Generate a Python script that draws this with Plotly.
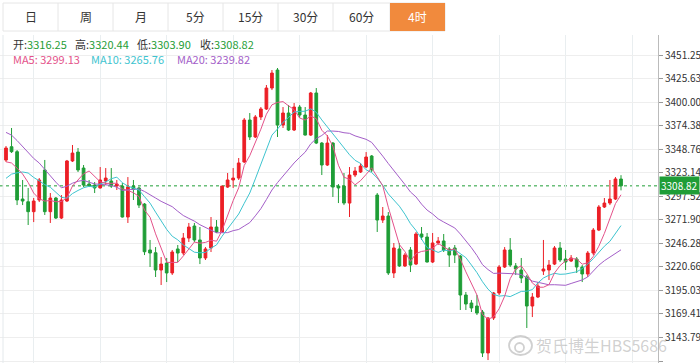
import plotly.graph_objects as go
import pandas as pd

# ---------------- data (4-hour candles) ----------------
open_ = [3336.9, 3351.4, 3346.0, 3294.5, 3291.5, 3280.7, 3293.4, 3326.1, 3280.7, 3295.6,
         3273.8, 3292.3, 3335.9, 3345.6, 3328.2, 3310.8, 3309.7, 3306.5, 3314.1, 3314.1,
         3308.6, 3308.6, 3274.9, 3308.6, 3306.5, 3289.0, 3239.0, 3236.0, 3217.2, 3224.8,
         3214.0, 3240.1, 3235.7, 3252.0, 3265.1, 3249.9, 3230.3, 3241.2, 3264.0, 3258.6,
         3307.5, 3315.2, 3317.3, 3334.8, 3380.5, 3362.0, 3383.8, 3392.5, 3415.3, 3434.9,
         3375.0, 3388.1, 3369.6, 3394.6, 3385.9, 3364.1, 3409.9, 3355.4, 3331.5, 3355.4,
         3308.6, 3308.6, 3290.1, 3320.6, 3323.9, 3329.3, 3341.3, 3298.8, 3271.6, 3276.0,
         3214.0, 3240.1, 3221.6, 3239.0, 3223.7, 3256.4, 3253.1, 3225.9, 3246.6, 3248.8,
         3240.1, 3241.2, 3232.4, 3190.0, 3181.3, 3178.0, 3171.5, 3126.9, 3165.0, 3192.2,
         3220.5, 3239.0, 3221.6, 3217.2, 3209.6, 3178.0, 3187.8, 3216.1, 3217.2, 3223.7,
         3241.2, 3229.2, 3227.0, 3229.2, 3220.5, 3212.9, 3235.7, 3260.7, 3285.8, 3290.1,
         3294.5, 3316.25]
high = [3352.2, 3371.8, 3347.8, 3315.2, 3306.5, 3295.6, 3317.3, 3337.0, 3301.0, 3296.7,
        3298.8, 3337.0, 3353.3, 3350.0, 3331.5, 3315.2, 3313.0, 3329.3, 3328.2, 3328.2,
        3315.2, 3311.9, 3318.4, 3315.2, 3307.9, 3290.1, 3249.9, 3242.2, 3231.3, 3230.3,
        3239.0, 3244.4, 3257.5, 3268.4, 3268.4, 3264.0, 3242.2, 3274.9, 3271.6, 3308.6,
        3322.8, 3328.2, 3339.1, 3382.7, 3388.1, 3385.9, 3394.6, 3418.6, 3434.9, 3437.1,
        3394.6, 3396.8, 3399.0, 3396.8, 3394.6, 3411.0, 3415.3, 3356.5, 3364.1, 3356.5,
        3310.8, 3322.8, 3329.3, 3329.3, 3333.7, 3345.6, 3342.4, 3301.0, 3285.8, 3280.3,
        3246.6, 3246.6, 3235.7, 3242.2, 3258.6, 3264.0, 3257.5, 3257.5, 3253.1, 3256.4,
        3242.2, 3244.4, 3233.5, 3193.3, 3184.6, 3190.0, 3173.7, 3166.0, 3193.3, 3222.6,
        3242.2, 3252.0, 3224.8, 3230.3, 3211.8, 3192.2, 3204.1, 3249.9, 3228.1, 3243.3,
        3247.7, 3239.0, 3233.5, 3231.3, 3222.6, 3237.9, 3262.9, 3287.9, 3295.6, 3315.2,
        3318.4, 3320.44]
low = [3334.8, 3344.6, 3287.9, 3287.9, 3266.2, 3269.4, 3291.2, 3277.1, 3268.4, 3272.7,
       3272.7, 3291.2, 3334.8, 3323.9, 3307.5, 3307.5, 3301.0, 3305.9, 3309.7, 3306.5,
       3304.3, 3274.3, 3268.4, 3293.4, 3284.7, 3233.5, 3220.5, 3209.6, 3200.9, 3204.1,
       3211.8, 3225.9, 3233.5, 3247.7, 3247.7, 3223.7, 3228.1, 3236.8, 3257.5, 3257.5,
       3306.5, 3306.5, 3315.2, 3333.7, 3358.7, 3360.9, 3380.5, 3391.4, 3413.1, 3362.0,
       3371.8, 3368.5, 3368.5, 3382.7, 3363.6, 3363.1, 3354.3, 3320.6, 3330.4, 3296.7,
       3290.1, 3287.9, 3274.9, 3318.4, 3322.8, 3328.2, 3323.9, 3258.6, 3268.4, 3211.8,
       3208.5, 3220.5, 3220.5, 3215.0, 3222.6, 3249.9, 3225.4, 3224.8, 3244.4, 3236.8,
       3220.5, 3224.8, 3173.7, 3173.7, 3171.5, 3168.2, 3122.5, 3119.2, 3162.8, 3190.0,
       3219.4, 3220.5, 3211.8, 3203.0, 3154.1, 3166.0, 3186.7, 3211.8, 3206.3, 3222.6,
       3225.9, 3217.2, 3225.9, 3214.0, 3204.1, 3209.6, 3233.5, 3259.6, 3284.7, 3287.9,
       3293.4, 3303.90]
close = [3350.0, 3346.0, 3293.4, 3292.3, 3280.7, 3292.3, 3315.2, 3280.7, 3295.6, 3273.8,
         3293.4, 3335.9, 3344.5, 3326.1, 3309.7, 3308.6, 3306.5, 3315.2, 3317.3, 3308.6,
         3310.8, 3274.9, 3307.5, 3305.0, 3287.9, 3237.1, 3235.7, 3217.2, 3223.7, 3214.0,
         3236.8, 3235.7, 3252.0, 3264.0, 3249.9, 3230.3, 3240.1, 3264.0, 3258.6, 3308.6,
         3315.2, 3317.3, 3333.7, 3380.5, 3362.0, 3383.8, 3392.5, 3415.3, 3431.6, 3375.0,
         3388.1, 3369.6, 3394.6, 3385.9, 3364.1, 3409.9, 3355.4, 3331.5, 3355.4, 3307.5,
         3306.5, 3290.1, 3320.6, 3325.0, 3330.4, 3340.2, 3326.1, 3271.6, 3276.0, 3214.0,
         3241.2, 3221.6, 3233.5, 3222.6, 3256.4, 3253.1, 3225.9, 3246.6, 3248.8, 3239.0,
         3233.5, 3233.5, 3190.0, 3180.2, 3175.9, 3170.4, 3126.9, 3165.0, 3192.2, 3220.5,
         3239.0, 3222.6, 3218.3, 3208.5, 3178.0, 3187.8, 3199.8, 3218.3, 3222.6, 3241.2,
         3228.1, 3225.9, 3230.3, 3220.5, 3212.9, 3235.7, 3260.7, 3285.8, 3290.1, 3294.5,
         3316.3, 3308.82]
# closes before the visible window (estimated from where the MA lines start)
prior_closes = [3405, 3412, 3418, 3411.4, 3425, 3415, 3422, 3415.8, 3430, 3415.8,
                3300, 3279.4, 3283, 3292, 3340.6, 3352.5, 3321.9, 3323.8, 3326.8]

y_ticks = [3118.17, 3143.79, 3169.41, 3195.03, 3220.66, 3246.28, 3271.90,
           3297.52, 3323.14, 3348.76, 3374.38, 3400.00, 3425.63, 3451.25]
tab_labels = ["日", "周", "月", "5分", "15分", "30分", "60分", "4时"]
last_price = 3308.82
info_ohlc = [("开", "3316.25"), ("高", "3320.44"), ("低", "3303.90"), ("收", "3308.82")]
info_ma = [("MA5", "3299.13"), ("MA10", "3265.76"), ("MA20", "3239.82")]

# ---------------- styling ----------------
RED = "#ec1f26"
GREEN = "#1f9d36"
C_MA5 = "#e4528a"
C_MA10 = "#3ec4cf"
C_MA20 = "#a35ec8"
FONT = "Noto Sans CJK SC, Noto Sans, sans-serif"
WM = "rgba(150,150,150,0.45)"

W, H = 700, 363
ML, MR, MT, MB = 0, 42, 35, 0
PW, PH = W - ML - MR, H - MT - MB

def px(x):
    return (x - ML) / PW

def py(y):
    return (H - MB - y) / PH

n = len(close)
idx = list(range(n))
full = pd.Series(prior_closes + close)
ma5 = full.rolling(5).mean().tolist()[-n:]
ma10 = full.rolling(10).mean().tolist()[-n:]
ma20 = full.rolling(20).mean().tolist()[-n:]

fig = go.Figure()
fig.add_trace(go.Candlestick(
    x=idx, open=open_, high=high, low=low, close=close,
    increasing=dict(line=dict(color=RED, width=1), fillcolor=RED),
    decreasing=dict(line=dict(color=GREEN, width=1), fillcolor=GREEN),
    whiskerwidth=0, hoverinfo="skip", showlegend=False))
for vals, col in [(ma20, C_MA20), (ma10, C_MA10), (ma5, C_MA5)]:
    fig.add_trace(go.Scatter(x=idx, y=vals, mode="lines",
                             line=dict(color=col, width=1), hoverinfo="skip",
                             showlegend=False))

shapes = []
shapes.append(dict(type="line", xref="paper", yref="y", x0=0, x1=1,
                   y0=last_price, y1=last_price,
                   line=dict(color=GREEN, width=1, dash="dot"), layer="below"))
shapes.append(dict(type="line", xref="paper", yref="paper", x0=px(3), x1=px(3),
                   y0=0, y1=py(35), line=dict(color="#e4e9ec", width=1)))
seps = [3, 58, 113, 168, 223, 278, 333, 390, 445]
shapes.append(dict(type="rect", xref="paper", yref="paper", x0=px(3), x1=px(445),
                   y0=py(31), y1=py(3), line=dict(color="#e6e6e6", width=1),
                   fillcolor="white"))
for s in seps[1:-1]:
    shapes.append(dict(type="line", xref="paper", yref="paper", x0=px(s), x1=px(s),
                       y0=py(31), y1=py(3), line=dict(color="#e6e6e6", width=1)))
shapes.append(dict(type="rect", xref="paper", yref="paper", x0=px(390), x1=px(445),
                   y0=py(31), y1=py(3), line=dict(width=0), fillcolor="#f18a3d"))
# watermark logo (simple eye-like mark)
shapes.append(dict(type="circle", xref="paper", yref="paper", x0=px(509), x1=px(532),
                   y0=py(355), y1=py(336), line=dict(color=WM, width=1.8),
                   fillcolor="rgba(0,0,0,0)"))
shapes.append(dict(type="circle", xref="paper", yref="paper", x0=px(515), x1=px(524),
                   y0=py(352), y1=py(343), line=dict(color=WM, width=1.8),
                   fillcolor="rgba(0,0,0,0)"))

ann = []
for i, lab in enumerate(tab_labels):
    cx = (seps[i] + seps[i + 1]) / 2
    ann.append(dict(xref="paper", yref="paper", x=px(cx), y=py(17), text=lab,
                    showarrow=False, xanchor="center", yanchor="middle",
                    font=dict(family=FONT, size=12,
                              color="white" if lab == "4时" else "#333")))
ohlc_x = [11, 73, 135, 198]
for (lab, val), x0 in zip(info_ohlc, ohlc_x):
    ann.append(dict(xref="paper", yref="paper", x=px(x0), y=py(44),
                    text=f"{lab}:<span style='color:{GREEN}'>{val}</span>",
                    showarrow=False, xanchor="left", yanchor="middle",
                    font=dict(family=FONT, size=11, color="#333")))
ma_x = [11, 89, 175]
for (lab, val), x0, col in zip(info_ma, ma_x, [C_MA5, C_MA10, C_MA20]):
    ann.append(dict(xref="paper", yref="paper", x=px(x0), y=py(59),
                    text=f"{lab}: {val}", showarrow=False, xanchor="left",
                    yanchor="middle", font=dict(family=FONT, size=11, color=col)))
ann.append(dict(xref="paper", yref="y", x=1, y=last_price, text=f"{last_price:.2f}",
                showarrow=False, xanchor="left", yanchor="middle", xshift=1,
                bgcolor=GREEN, borderpad=1,
                font=dict(family=FONT, size=10, color="white")))
ann.append(dict(xref="paper", yref="paper", x=px(534), y=py(345),
                text="贺氏博生HBS5686", showarrow=False, xanchor="left",
                yanchor="middle",
                font=dict(family=FONT, size=16, color=WM)))

x_grid = [5, 17, 29, 41, 53, 65, 77, 89, 101, 113]
sc = (621 - 6) / (n - 1)
x0r = -(6 - ML) / sc
x1r = x0r + PW / sc

k = 0.9187
ytop = 3451.25 + (55 - MT) / k
ybot = ytop - PH / k

fig.update_layout(
    width=W, height=H, margin=dict(l=ML, r=MR, t=MT, b=MB),
    paper_bgcolor="white", plot_bgcolor="white",
    shapes=shapes, annotations=ann, boxgap=0.3,
    font=dict(family=FONT, size=11, color="#333"),
    xaxis=dict(range=[x0r, x1r], rangeslider=dict(visible=False),
               tickvals=x_grid, showticklabels=False, showgrid=True,
               gridcolor="#e9eef0", zeroline=False, showline=False, ticks=""),
    yaxis=dict(range=[ybot, ytop], side="right", tickvals=y_ticks,
               ticktext=[f"{v:.2f}" for v in y_ticks], showgrid=True,
               gridcolor="#eeeeee", zeroline=False, showline=True,
               linecolor="#bbbbbb", ticks="outside", ticklen=4,
               tickcolor="#999", automargin=False,
               tickfont=dict(family=FONT, size=10, color="#333")),
)
fig.write_html("out.html", config={"displayModeBar": False},
               post_script="document.body.style.margin='0';document.body.style.overflow='hidden';")
